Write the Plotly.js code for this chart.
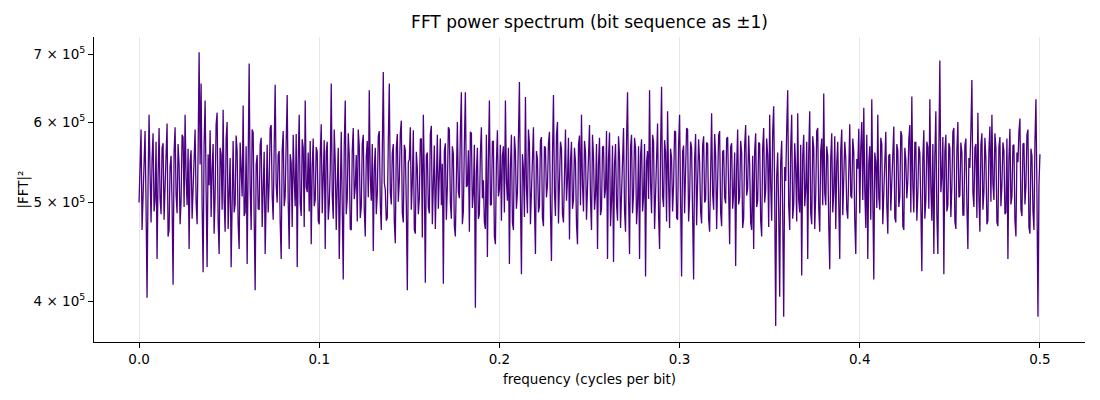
<!DOCTYPE html>
<html>
<head>
<meta charset="utf-8">
<script src="https://cdn.plot.ly/plotly-3.0.1.min.js"></script>
<style>
	html, body { margin: 0; padding: 0; background: #fff; }
	#chart { width: 1100px; height: 400px; }
</style>
</head>
<body>
<div id="chart"></div>
<script>
// frequency axis: 0 .. 0.5 cycles per bit, evenly spaced bins
const freq_start = 0
const freq_end = 0.5

// |FFT|^2 per bin, in thousands
const power_k = [
	500, 545, 590, 470, 512, 562, 588, 497, 403, 520, 610, 535, 478, 551, 585, 490, 503, 574, 440, 528,
	592, 505, 487, 566, 572, 481, 521, 579, 598, 463, 470, 543, 556, 498, 415, 560, 593, 509, 488, 571,
	545, 476, 502, 583, 580, 495, 610, 530, 497, 565, 450, 548, 563, 482, 518, 577, 590, 501, 476, 560,
	703, 545, 655, 498, 427, 572, 630, 515, 432, 558, 520, 589, 484, 539, 571, 466, 509, 597, 613, 480,
	445, 566, 558, 492, 617, 503, 468, 578, 600, 471, 512, 553, 432, 540, 575, 489, 498, 582, 562, 476,
	450, 573, 541, 507, 623, 485, 489, 568, 435, 552, 685, 517, 470, 590, 586, 484, 410, 545, 557, 493,
	492, 570, 579, 473, 505, 561, 445, 537, 570, 489, 523, 592, 596, 508, 481, 566, 653, 521, 500, 557,
	562, 478, 440, 563, 588, 496, 507, 574, 638, 502, 450, 558, 547, 473, 583, 528, 496, 584, 432, 551,
	610, 499, 485, 577, 566, 473, 630, 518, 512, 560, 490, 575, 455, 542, 578, 496, 503, 567, 561, 480,
	476, 556, 597, 488, 520, 576, 450, 561, 574, 481, 498, 539, 655, 509, 482, 590, 548, 470, 521, 566,
	440, 552, 587, 495, 420, 568, 630, 487, 505, 585, 556, 471, 470, 563, 592, 504, 518, 557, 479, 590,
	568, 483, 495, 572, 583, 492, 463, 555, 575, 506, 645, 528, 502, 571, 448, 540, 566, 487, 510, 581,
	588, 499, 470, 562, 672, 523, 515, 480, 483, 574, 655, 512, 498, 559, 571, 479, 456, 566, 584, 501,
	525, 585, 602, 488, 478, 570, 563, 497, 410, 548, 551, 593, 492, 524, 589, 470, 466, 561, 540, 487,
	505, 577, 578, 462, 610, 530, 417, 556, 560, 495, 488, 584, 595, 476, 512, 569, 471, 538, 583, 493,
	530, 578, 497, 546, 416, 562, 572, 481, 518, 593, 590, 500, 482, 568, 558, 474, 463, 557, 600, 512,
	505, 586, 642, 476, 490, 571, 642, 518, 520, 563, 468, 587, 585, 494, 511, 570, 394, 536, 566, 482,
	487, 560, 593, 505, 526, 478, 471, 583, 442, 552, 630, 497, 498, 574, 575, 463, 455, 548, 589, 507,
	515, 570, 480, 556, 568, 489, 630, 525, 502, 566, 435, 543, 583, 478, 470, 581, 561, 493, 512, 579,
	657, 505, 425, 558, 540, 484, 635, 517, 488, 590, 571, 476, 509, 563, 593, 498, 445, 562, 552, 489,
	496, 575, 580, 483, 474, 568, 566, 506, 520, 572, 587, 490, 438, 555, 638, 511, 485, 583, 600, 477,
	511, 574, 565, 487, 478, 560, 590, 502, 527, 579, 460, 549, 574, 493, 503, 566, 548, 476, 455, 570,
	582, 497, 610, 520, 490, 575, 561, 481, 517, 556, 596, 503, 470, 583, 555, 492, 508, 571, 450, 546,
	579, 486, 493, 567, 568, 505, 515, 588, 440, 553, 586, 474, 502, 569, 437, 545, 571, 498, 480, 581,
	556, 472, 520, 563, 592, 491, 468, 575, 642, 508, 445, 566, 583, 488, 510, 579, 565, 476, 497, 568,
	440, 557, 577, 490, 506, 571, 423, 548, 562, 504, 645, 522, 488, 583, 574, 471, 513, 566, 598, 487,
	450, 563, 650, 507, 495, 576, 560, 479, 615, 526, 472, 565, 553, 490, 520, 588, 587, 483, 481, 570,
	610, 503, 423, 561, 569, 488, 538, 592, 590, 479, 505, 574, 566, 497, 420, 552, 584, 475, 512, 577,
	548, 490, 477, 569, 581, 500, 503, 573, 571, 482, 468, 559, 612, 510, 492, 584, 557, 471, 519, 582,
	588, 489, 474, 561, 563, 506, 499, 578, 580, 484, 455, 567, 572, 493, 511, 560, 433, 541, 590, 498,
	506, 575, 560, 472, 482, 569, 596, 508, 517, 582, 545, 478, 470, 556, 450, 562, 585, 495, 502, 573,
	571, 480, 463, 566, 592, 500, 514, 578, 556, 473, 610, 521, 480, 587, 622, 506, 378, 530, 560, 489,
	404, 548, 575, 488, 386, 542, 525, 590, 645, 497, 470, 566, 610, 482, 498, 572, 540, 479, 612, 503,
	489, 570, 424, 556, 583, 496, 515, 574, 440, 560, 615, 488, 476, 581, 566, 471, 509, 588, 592, 494,
	468, 562, 578, 497, 640, 511, 497, 568, 556, 476, 430, 553, 585, 489, 512, 581, 471, 546, 574, 500,
	440, 563, 590, 486, 518, 574, 553, 492, 482, 571, 597, 508, 505, 578, 561, 480, 445, 552, 540, 591,
	488, 566, 600, 503, 620, 515, 472, 583, 440, 546, 568, 481, 632, 509, 420, 560, 548, 494, 610, 506,
	492, 579, 571, 476, 515, 568, 587, 498, 466, 556, 558, 491, 522, 580, 594, 483, 478, 571, 563, 495,
	506, 588, 582, 474, 470, 566, 551, 505, 525, 577, 596, 489, 636, 520, 489, 573, 573, 480, 510, 568,
	560, 497, 428, 553, 589, 482, 502, 574, 567, 493, 632, 518, 480, 571, 445, 556, 615, 487, 445, 563,
	690, 512, 530, 580, 425, 561, 583, 490, 497, 572, 566, 484, 518, 587, 592, 479, 471, 562, 600, 506,
	508, 573, 560, 486, 486, 569, 578, 497, 450, 553, 541, 588, 660, 512, 495, 566, 571, 483, 613, 507,
	468, 570, 585, 492, 512, 579, 553, 476, 480, 562, 594, 501, 610, 522, 503, 585, 566, 478, 474, 567,
	580, 496, 520, 573, 562, 487, 489, 578, 440, 551, 591, 498, 507, 569, 570, 480, 463, 560, 548, 587,
	605, 492, 485, 571, 572, 498, 520, 583, 590, 473, 466, 565, 556, 491, 470, 574, 632, 510, 386, 520,
	558,
]

const y_tick_vals = [4e5, 5e5, 6e5, 7e5]
const y_tick_text = ['4 × 10<sup>5</sup>', '5 × 10<sup>5</sup>', '6 × 10<sup>5</sup>', '7 × 10<sup>5</sup>']
const x_tick_vals = [0, 0.1, 0.2, 0.3, 0.4, 0.5]

const font = 'DejaVu Sans, sans-serif'

Plotly.newPlot('chart', [
	{
		x0: freq_start,
		dx: (freq_end - freq_start) / (power_k.length - 1),
		y: power_k.map(v => v * 1000),
		type: 'scatter',
		mode: 'lines',
		line: {
			color: '#4b0082',
			width: 1.3,
		},
		hoverinfo: 'skip',
	},
], {
	width: 1100,
	height: 400,
	margin: { l: 94, r: 15, t: 37, b: 58 },
	paper_bgcolor: '#fff',
	plot_bgcolor: '#fff',
	showlegend: false,
	font: { family: font, size: 14, color: '#000' },
	title: {
		text: 'FFT power spectrum (bit sequence as ±1)',
		font: { family: font, size: 17, color: '#000' },
		x: 0.5,
		xanchor: 'center',
		y: 0.945,
		yanchor: 'middle',
		xref: 'paper',
	},
	xaxis: {
		range: [-0.025, 0.525],
		tickvals: x_tick_vals,
		tickformat: '.1f',
		ticks: 'outside',
		ticklen: 5,
		tickcolor: '#000',
		tickfont: { family: font, size: 13.5 },
		showgrid: true,
		gridcolor: '#e6e6e6',
		gridwidth: 1,
		zeroline: false,
		showline: true,
		linecolor: '#000',
		linewidth: 1,
		mirror: false,
		title: { text: 'frequency (cycles per bit)', font: { family: font, size: 13.5 }, standoff: 8 },
	},
	yaxis: {
		type: 'log',
		range: [Math.log10(3.646e5), Math.log10(7.276e5)],
		tickvals: y_tick_vals,
		ticktext: y_tick_text,
		ticks: 'outside',
		ticklen: 5,
		tickcolor: '#000',
		tickfont: { family: font, size: 13.5 },
		showgrid: false,
		zeroline: false,
		showline: true,
		linecolor: '#000',
		linewidth: 1,
		mirror: false,
		title: { text: '|FFT|²', font: { family: font, size: 13.5 }, standoff: 1 },
	},
}, { displayModeBar: false, staticPlot: true })
</script>
</body>
</html>
